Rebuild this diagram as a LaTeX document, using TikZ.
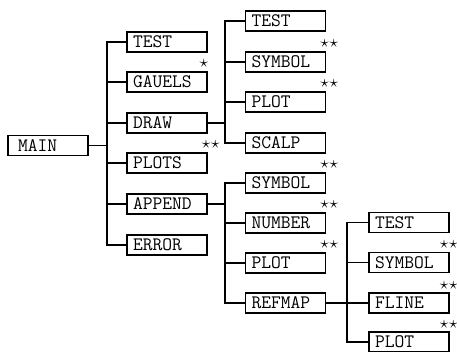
\documentclass[tikz,border=0pt]{standalone}
\tikzset{
  modbox/.style={draw, line width=1.5pt, text width=68pt, inner xsep=6pt, inner ysep=0pt,
                 minimum height=20pt, align=left, font=\ttfamily\fontsize{19pt}{19pt}\selectfont},
  stars/.style={anchor=south, inner sep=0pt, font=\LARGE},
  link/.style={line width=1.1pt}
}
\newcommand{\twostar}{$\star$\hspace{1pt}$\star$}
\begin{document}
\begin{tikzpicture}[x=1pt, y=-1pt]
                    \useasboundingbox (0,0) rectangle (457,351);

                    % Main program (left)
                    \node[modbox] (main) at (48,145.5) {\hspace*{4pt}MAIN};

                    % First level
                    \node[modbox] (test) at (167,42) {TEST};
                    \node[modbox] (gauels) at (167,82) {GAUELS};
                    \node[modbox] (draw) at (167,123) {DRAW};
                    \node[modbox] (plots) at (167,163) {PLOTS};
                    \node[modbox] (append) at (167,204) {APPEND};
                    \node[modbox] (error) at (167,245) {ERROR};

                    % Second level (under DRAW)
                    \node[modbox] (dtest) at (285.5,21) {TEST};
                    \node[modbox] (dsymbol) at (285.5,62) {SYMBOL};
                    \node[modbox] (dplot) at (285.5,102) {PLOT};
                    \node[modbox] (scalp) at (285.5,143) {SCALP};

                    % Second level (under APPEND)
                    \node[modbox] (asymbol) at (285.5,183) {SYMBOL};
                    \node[modbox] (number) at (285.5,223) {NUMBER};
                    \node[modbox] (aplot) at (285.5,263) {PLOT};
                    \node[modbox] (refmap) at (285.5,303) {REFMAP};

                    % Third level (under REFMAP)
                    \node[modbox] (rtest) at (409,222.5) {TEST};
                    \node[modbox] (rsymbol) at (409,262.5) {SYMBOL};
                    \node[modbox] (fline) at (409,303) {FLINE};
                    \node[modbox] (rplot) at (409,342) {PLOT};

                    % Stars
                    \node[stars] (sgauels) at ([xshift=-4pt,yshift=4pt]gauels.north east) {$\star$};
                    \node[stars] (splots) at ([xshift=3pt,yshift=4pt]plots.north east) {\twostar};
                    \node[stars] (sdsymbol) at ([xshift=3pt,yshift=4pt]dsymbol.north east) {\twostar};
                    \node[stars] (sdplot) at ([xshift=3pt,yshift=4pt]dplot.north east) {\twostar};
                    \node[stars] (sasymbol) at ([xshift=3pt,yshift=4pt]asymbol.north east) {\twostar};
                    \node[stars] (snumber) at ([xshift=3pt,yshift=4pt]number.north east) {\twostar};
                    \node[stars] (saplot) at ([xshift=3pt,yshift=4pt]aplot.north east) {\twostar};
                    \node[stars] (srsymbol) at ([xshift=-1pt,yshift=3pt]rsymbol.north east) {\twostar};
                    \node[stars] (sfline) at ([xshift=-1pt,yshift=3pt]fline.north east) {\twostar};
                    \node[stars] (srplot) at ([xshift=-1pt,yshift=3pt]rplot.north east) {\twostar};

                    % Connectors from MAIN
                    \coordinate (t1) at (107,145.5);
                    \draw[link] (main) -- (t1);
                    \draw[link] (t1) |- (test.west);
                    \draw[link] (t1) |- (gauels.west);
                    \draw[link] (t1) |- (draw.west);
                    \draw[link] (t1) |- (plots.west);
                    \draw[link] (t1) |- (append.west);
                    \draw[link] (t1) |- (error.west);

                    % Connectors from DRAW
                    \coordinate (t2) at (225,123);
                    \draw[link] (draw) -- (t2);
                    \draw[link] (t2) |- (dtest.west);
                    \draw[link] (t2) |- (dsymbol.west);
                    \draw[link] (t2) |- (dplot.west);
                    \draw[link] (t2) |- (scalp.west);

                    % Connectors from APPEND
                    \coordinate (t3) at (225,204);
                    \draw[link] (append) -- (t3);
                    \draw[link] (t3) |- (asymbol.west);
                    \draw[link] (t3) |- (number.west);
                    \draw[link] (t3) |- (aplot.west);
                    \draw[link] (t3) |- (refmap.west);

                    % Connectors from REFMAP
                    \coordinate (t4) at (347,303);
                    \draw[link] (refmap) -- (t4);
                    \draw[link] (t4) |- (rtest.west);
                    \draw[link] (t4) |- (rsymbol.west);
                    \draw[link] (t4) |- (fline.west);
                    \draw[link] (t4) |- (rplot.west);
\end{tikzpicture}
\end{document}
